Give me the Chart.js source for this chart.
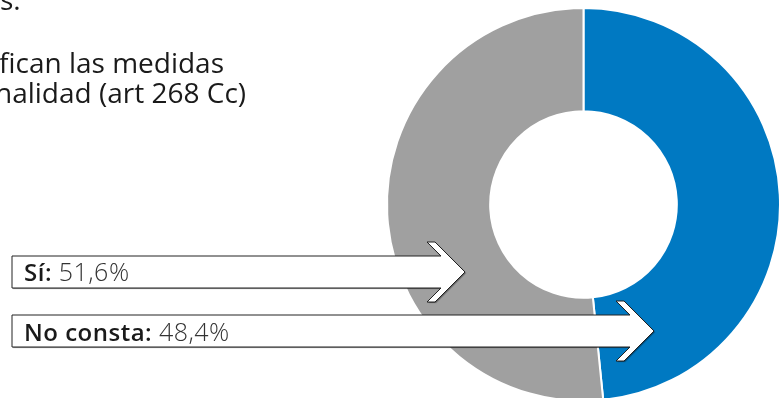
<!DOCTYPE html>
<html>
<head>
<meta charset="utf-8">
<script src="https://cdn.jsdelivr.net/npm/chart.js@4.4.0/dist/chart.umd.min.js"></script>
<style>
  html, body { margin: 0; padding: 0; overflow: hidden; background: #fff; }
  #wrap { position: relative; width: 782px; height: 398px; overflow: hidden; }
  #grafico { position: absolute; left: 0; top: 0; }
  .titulo { position: absolute; font-family: "Open Sans", sans-serif; font-size: 28px; color: #1a1a1a; white-space: nowrap; line-height: 31px; }
</style>
</head>
<body>
<div id="wrap">
  <canvas id="grafico" width="782" height="420"></canvas>
  <div class="titulo" style="left:0px; top:-16px;">s.</div>
  <div class="titulo" style="left:-1px; top:47px;">fican las medidas</div>
  <div class="titulo" style="left:-5px; top:77px;">nalidad (art 268 Cc)</div>
</div>
<script>
  // datos del gráfico (orden del anillo: empieza arriba, sentido horario)
  const etiquetas = ["No consta", "Sí"];
  const porcentajes = [48.4, 51.6];
  const colores = ["#0079c2", "#a0a0a0"];

  // posiciones de las flechas (Sí arriba, No consta abajo)
  const flechas = [
    { indice: 1, x0: 12, yTop: 256, yBot: 288, punta: 465, base: 281 },
    { indice: 0, x0: 12, yTop: 315, yBot: 347, punta: 654, base: 341 }
  ];

  function formato(v) {
    return v.toFixed(1).replace('.', ',') + '%';
  }

  function dibujaFlecha(ctx, f) {
    const mid = (f.yTop + f.yBot) / 2;
    const h = 30;
    const tip = f.punta;
    const frente = tip - h;          // inicio del borde delantero
    const atras = frente - 8;        // borde trasero de la cabeza
    const union = atras + (h - (f.yBot - f.yTop) / 2);
    ctx.beginPath();
    ctx.moveTo(f.x0, f.yTop);
    ctx.lineTo(union, f.yTop);
    ctx.lineTo(atras, mid - h);
    ctx.lineTo(frente, mid - h);
    ctx.lineTo(tip, mid);
    ctx.lineTo(frente, mid + h);
    ctx.lineTo(atras, mid + h);
    ctx.lineTo(union, f.yBot);
    ctx.lineTo(f.x0, f.yBot);
    ctx.closePath();
    ctx.save();
    ctx.shadowColor = 'rgba(0,0,0,0.45)';
    ctx.shadowOffsetX = 1;
    ctx.shadowOffsetY = 1;
    ctx.shadowBlur = 1;
    ctx.fillStyle = '#fff';
    ctx.fill();
    ctx.restore();
    ctx.lineWidth = 1;
    ctx.strokeStyle = '#222';
    ctx.stroke();

    // texto
    const nombre = etiquetas[f.indice] + ': ';
    const valor = formato(porcentajes[f.indice]);
    ctx.textBaseline = 'alphabetic';
    ctx.fillStyle = '#1a1a1a';
    ctx.font = '600 24px "Open Sans", sans-serif';
    ctx.letterSpacing = '0.5px';
    ctx.fillText(nombre, f.x0 + 12, f.base);
    const w = ctx.measureText(nombre).width;
    ctx.font = '300 25px "Open Sans", sans-serif';
    ctx.fillStyle = '#333';
    ctx.fillText(valor, f.x0 + 12 + w, f.base);
    ctx.letterSpacing = '0px';
  }

  const pluginFlechas = {
    id: 'flechas',
    afterDraw(chart) {
      const ctx = chart.ctx;
      ctx.save();
      flechas.forEach(f => dibujaFlecha(ctx, f));
      ctx.restore();
    }
  };

  const ctx = document.getElementById('grafico').getContext('2d');
  new Chart(ctx, {
    type: 'doughnut',
    data: {
      labels: etiquetas,
      datasets: [{
        data: porcentajes,
        backgroundColor: colores,
        borderColor: '#ffffff',
        borderWidth: 2
      }]
    },
    options: {
      responsive: false,
      animation: false,
      cutout: '47.5%',
      layout: {
        padding: { left: 386, top: 7, right: 1, bottom: 18 }
      },
      plugins: {
        legend: { display: false },
        tooltip: { enabled: false }
      }
    },
    plugins: [pluginFlechas]
  });
</script>
</body>
</html>
